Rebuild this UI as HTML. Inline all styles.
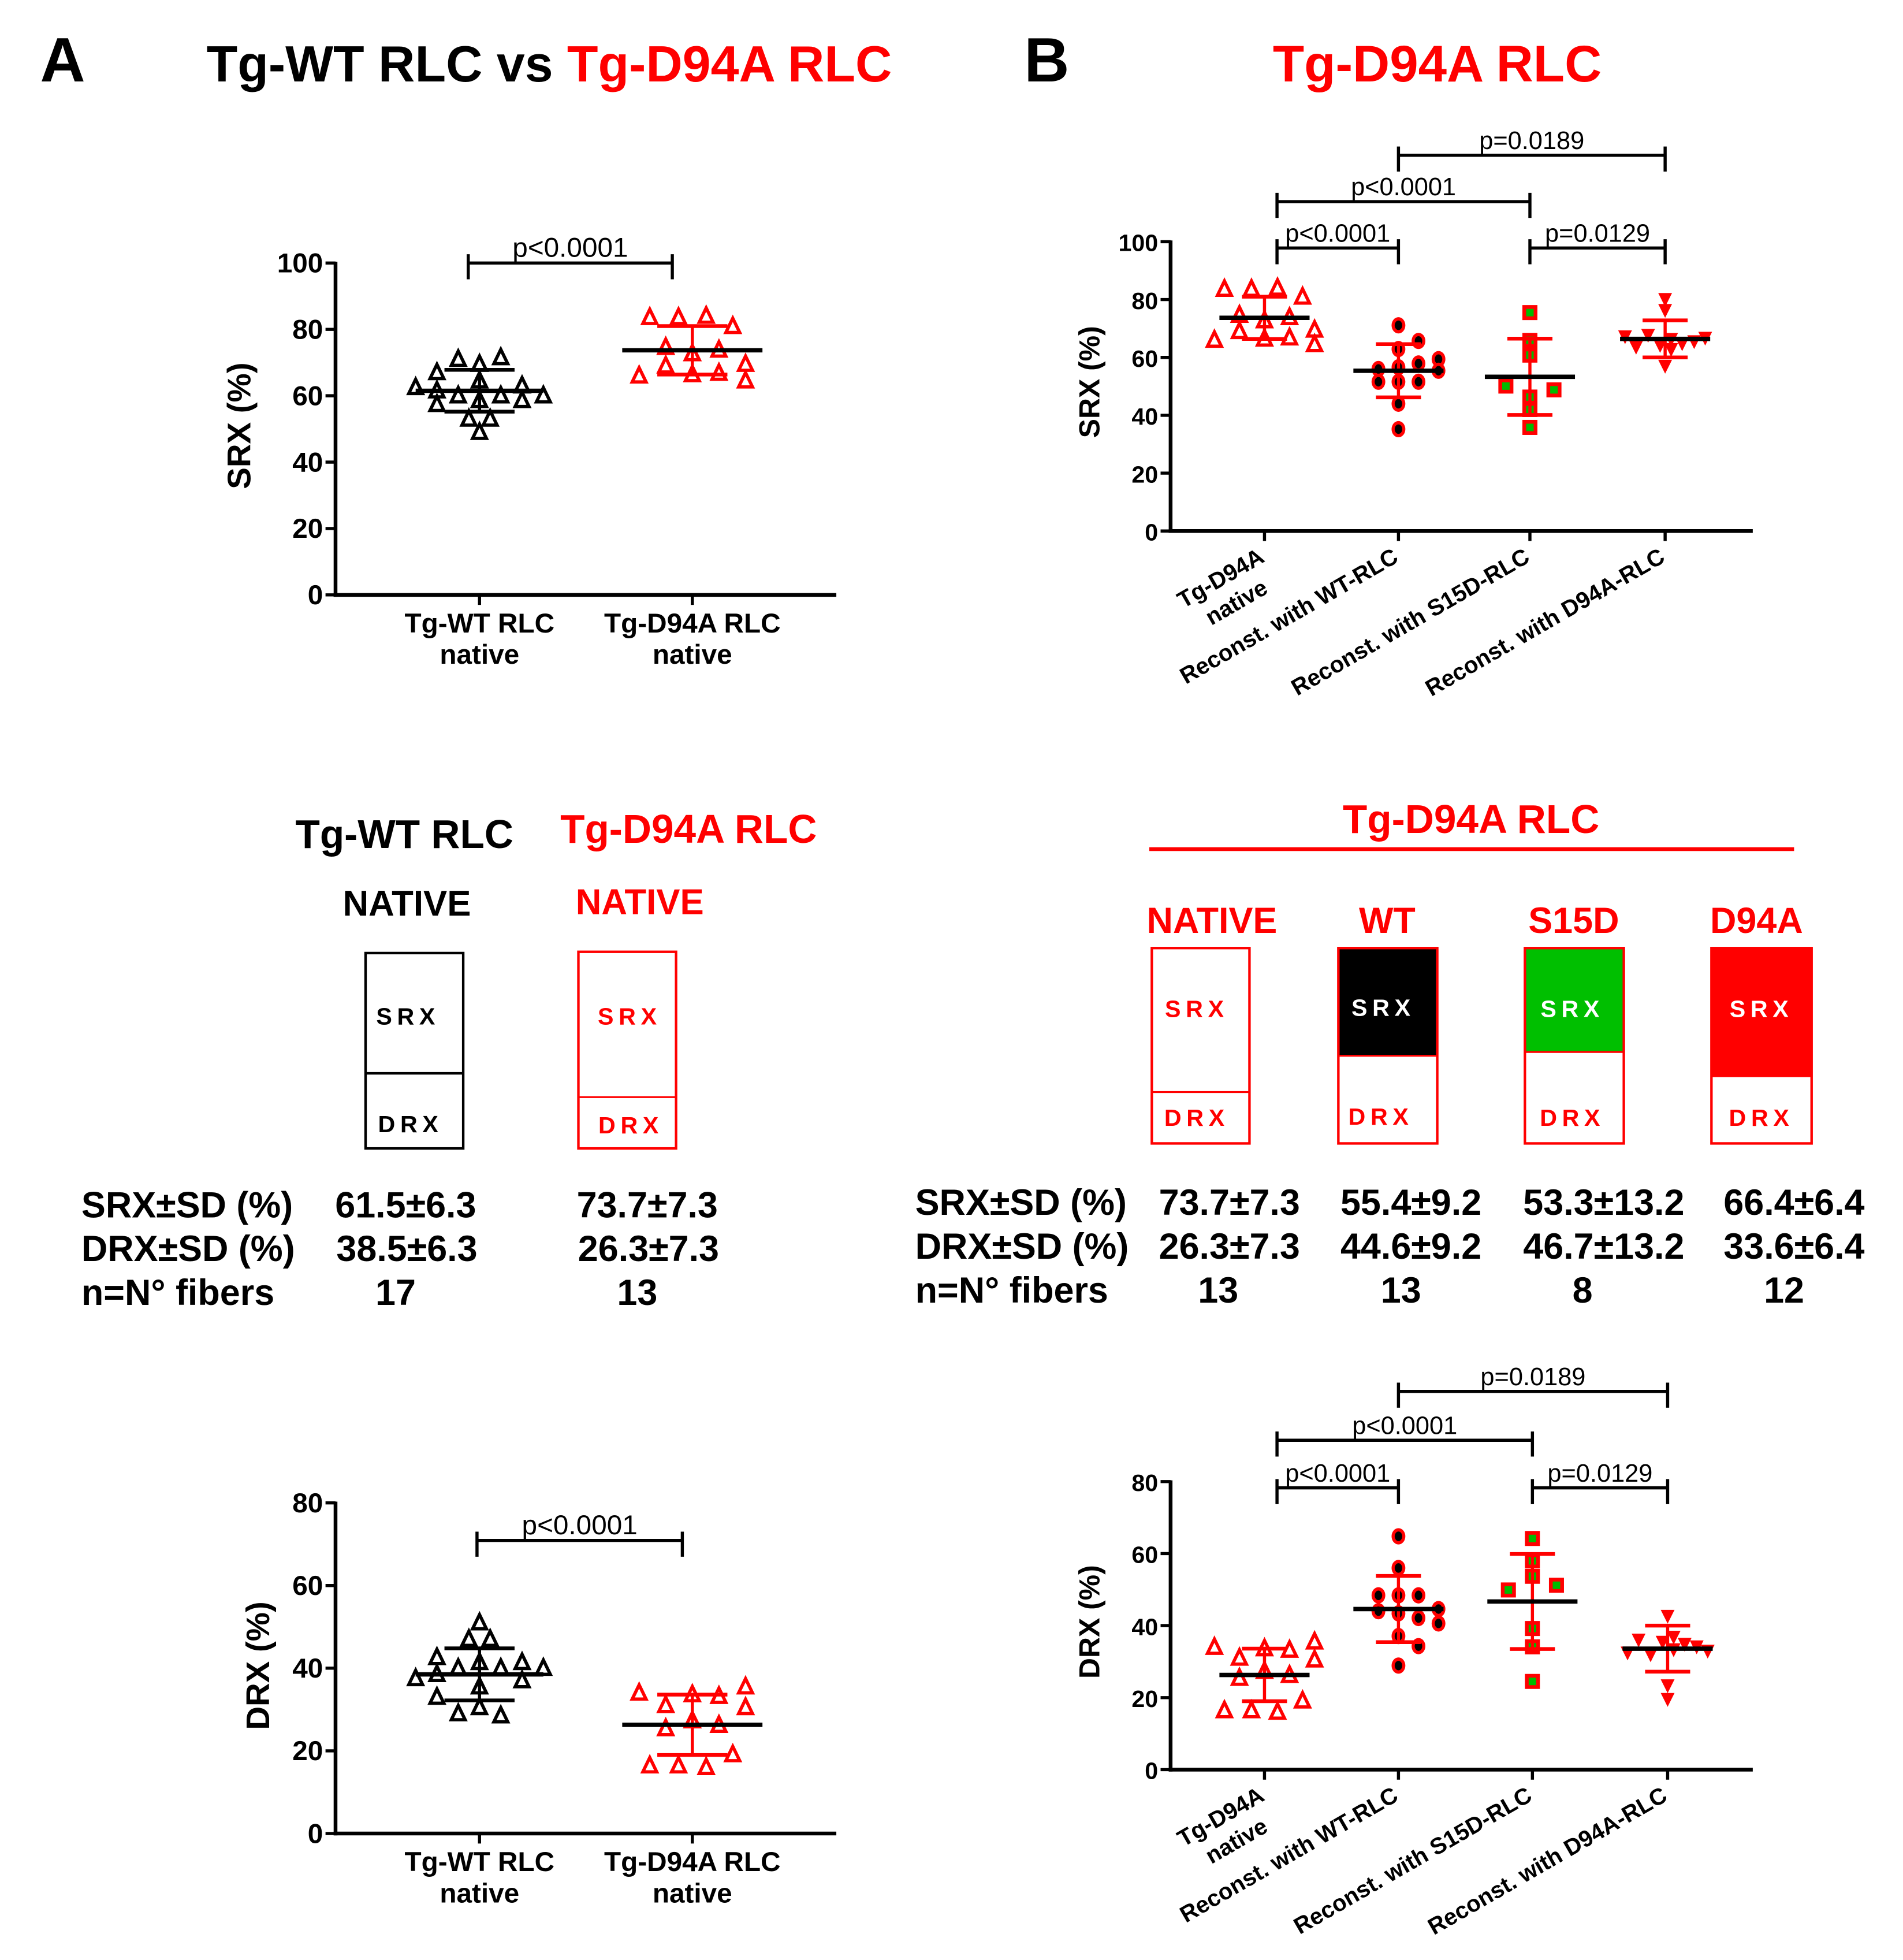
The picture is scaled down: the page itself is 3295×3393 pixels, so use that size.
<!DOCTYPE html>
<html><head><meta charset="utf-8"><style>
html,body{margin:0;padding:0;background:#fff}
svg{display:block}
text{font-family:"Liberation Sans",Arial,sans-serif}
</style></head><body>
<svg id="s" xmlns="http://www.w3.org/2000/svg" width="3295" height="3393" viewBox="0 0 1520 1565" preserveAspectRatio="none">
<rect width="1520" height="1565" fill="#fff"/>
<!-- Titles -->
<text x="32" y="65" font-size="50" font-weight="bold">A</text>
<text x="165" y="65" font-size="40.5" font-weight="bold">Tg-WT RLC vs <tspan fill="#f00">Tg-D94A RLC</tspan></text>
<text x="818" y="65" font-size="50" font-weight="bold">B</text>
<text x="1148" y="65" font-size="41" font-weight="bold" fill="#f00" text-anchor="middle">Tg-D94A RLC</text>

<!-- Middle A -->
<g font-weight="bold">
<text x="323" y="677" font-size="32" text-anchor="middle">Tg-WT RLC</text>
<text x="550" y="673" font-size="32" text-anchor="middle" fill="#f00">Tg-D94A RLC</text>
<text x="325" y="731" font-size="28.5" text-anchor="middle">NATIVE</text>
<text x="511" y="730" font-size="28.5" text-anchor="middle" fill="#f00">NATIVE</text>
</g>
<rect x="292" y="761" width="78" height="156" fill="none" stroke="#000" stroke-width="2"/>
<line x1="292" y1="857" x2="370" y2="857" stroke="#000" stroke-width="2"/>
<text x="326" y="818" font-size="19" font-weight="bold" text-anchor="middle" letter-spacing="4">SRX</text>
<text x="328" y="904" font-size="19" font-weight="bold" text-anchor="middle" letter-spacing="4">DRX</text>
<rect x="462" y="760" width="78" height="157" fill="none" stroke="#f00" stroke-width="2"/>
<line x1="462" y1="876" x2="540" y2="876" stroke="#f00" stroke-width="1.5"/>
<text x="503" y="818" font-size="19" font-weight="bold" text-anchor="middle" letter-spacing="4" fill="#f00">SRX</text>
<text x="504" y="905" font-size="19" font-weight="bold" text-anchor="middle" letter-spacing="4" fill="#f00">DRX</text>
<g font-size="29" font-weight="bold">
<text x="65" y="972">SRX±SD (%)</text><text x="65" y="1007">DRX±SD (%)</text><text x="65" y="1042">n=N° fibers</text>
<text x="324" y="972" text-anchor="middle">61.5±6.3</text><text x="325" y="1007" text-anchor="middle">38.5±6.3</text><text x="316" y="1042" text-anchor="middle">17</text>
<text x="517" y="972" text-anchor="middle">73.7±7.3</text><text x="518" y="1007" text-anchor="middle">26.3±7.3</text><text x="509" y="1042" text-anchor="middle">13</text>
</g>

<!-- Middle B -->
<text x="1175" y="665" font-size="32" font-weight="bold" text-anchor="middle" fill="#f00">Tg-D94A RLC</text>
<line x1="918" y1="678" x2="1433" y2="678" stroke="#f00" stroke-width="3"/>
<g font-size="29" font-weight="bold" fill="#f00" text-anchor="middle">
<text x="968" y="745">NATIVE</text><text x="1108" y="745">WT</text><text x="1257" y="745">S15D</text><text x="1403" y="745">D94A</text>
</g>
<rect x="920" y="757" width="78" height="156" fill="#fff" stroke="#f00" stroke-width="2"/>
<line x1="920" y1="872" x2="998" y2="872" stroke="#f00" stroke-width="1.5"/>
<rect x="1069" y="757" width="79" height="86" fill="#000"/>
<rect x="1069" y="757" width="79" height="156" fill="none" stroke="#f00" stroke-width="2"/>
<line x1="1069" y1="843" x2="1148" y2="843" stroke="#f00" stroke-width="1.5"/>
<rect x="1218" y="757" width="79" height="83" fill="#00bf00"/>
<rect x="1218" y="757" width="79" height="156" fill="none" stroke="#f00" stroke-width="2"/>
<line x1="1218" y1="840" x2="1297" y2="840" stroke="#f00" stroke-width="1.5"/>
<rect x="1367" y="757" width="80" height="103" fill="#f00"/>
<rect x="1367" y="757" width="80" height="156" fill="none" stroke="#f00" stroke-width="2"/>
<g font-size="19" font-weight="bold" letter-spacing="4" text-anchor="middle">
<text x="956" y="812" fill="#f00">SRX</text><text x="1105" y="811" fill="#fff">SRX</text><text x="1256" y="812" fill="#fff">SRX</text><text x="1407" y="812" fill="#fff">SRX</text>
<text x="956" y="899" fill="#f00">DRX</text><text x="1103" y="898" fill="#f00">DRX</text><text x="1256" y="899" fill="#f00">DRX</text><text x="1407" y="899" fill="#f00">DRX</text>
</g>
<g font-size="29" font-weight="bold">
<text x="731" y="970">SRX±SD (%)</text><text x="731" y="1005">DRX±SD (%)</text><text x="731" y="1040">n=N° fibers</text>
<g text-anchor="middle">
<text x="982" y="970">73.7±7.3</text><text x="1127" y="970">55.4±9.2</text><text x="1281" y="970">53.3±13.2</text><text x="1433" y="970">66.4±6.4</text>
<text x="982" y="1005">26.3±7.3</text><text x="1127" y="1005">44.6±9.2</text><text x="1281" y="1005">46.7±13.2</text><text x="1433" y="1005">33.6±6.4</text>
<text x="973" y="1040">13</text><text x="1119" y="1040">13</text><text x="1264" y="1040">8</text><text x="1425" y="1040">12</text>
</g></g>
<g id="dyn"></g>
</svg>
<script>
var NS="http://www.w3.org/2000/svg",G=document.getElementById("dyn");
function el(t,a,txt){var e=document.createElementNS(NS,t);for(var k in a)e.setAttribute(k,a[k]);if(txt!=null)e.textContent=txt;G.appendChild(e);return e;}
function line(x1,y1,x2,y2,c,w){el("line",{x1:x1,y1:y1,x2:x2,y2:y2,stroke:c||"#000","stroke-width":w||2.5});}
function axes(o){
  line(o.x0,o.yT-1,o.x0,o.y0+1.5,"#000",3);line(o.x0-1.5,o.y0,o.xE,o.y0,"#000",3);
  for(var v=0;v<=o.max;v+=o.step){var y=o.y0-(o.y0-o.yT)*v/o.max;line(o.x0-8,y,o.x0,y,"#000",2.5);
    el("text",{x:o.x0-10,y:y+7.5,"font-size":o.fs,"font-weight":"bold","text-anchor":"end"},String(v));}
  o.ticks.forEach(function(t){line(t,o.y0,t,o.y0+8,"#000",2.5);});
  el("text",{x:0,y:0,"font-size":o.lfs,"font-weight":"bold","text-anchor":"middle",transform:"translate("+o.lx+","+o.ly+") rotate(-90)"},o.label);
}
function brk(x1,x2,y,txt,fs){line(x1,y,x2,y,"#000",2.5);line(x1,y-7,x1,y+13,"#000",2.5);line(x2,y-7,x2,y+13,"#000",2.5);
  el("text",{x:(x1+x2)/2,y:y-5,"font-size":fs,"text-anchor":"middle"},txt);}
function tri(x,y,c,s){el("polygon",{points:(x)+","+(y-s)+" "+(x-s*0.85)+","+(y+s*0.75)+" "+(x+s*0.85)+","+(y+s*0.75),fill:"none",stroke:c,"stroke-width":2.6});}
function itri(x,y,s){el("polygon",{points:(x-s*0.85)+","+(y-s*0.7)+" "+(x+s*0.85)+","+(y-s*0.7)+" "+x+","+(y+s),fill:"#f00"});}
function circ(x,y){el("ellipse",{cx:x,cy:y,rx:5.5,ry:6.5,fill:"#f00"});el("ellipse",{cx:x,cy:y,rx:3,ry:3.8,fill:"#000"});}
function sq(x,y){el("rect",{x:x-6,y:y-6,width:12,height:12,fill:"#f00"});el("rect",{x:x-3,y:y-3,width:6,height:6,fill:"#0b0"});}
function stat(cx,Y,m,sd,w,cap,sdc){line(cx,Y(m-sd),cx,Y(m+sd),sdc,2.5);line(cx-cap,Y(m+sd),cx+cap,Y(m+sd),sdc,3);line(cx-cap,Y(m-sd),cx+cap,Y(m-sd),sdc,3);line(cx-w,Y(m),cx+w,Y(m),"#000",3.5);}
var WT=[[-6,62.5],[-4,67],[-4,61.5],[-4,57.4],[-2,71],[-2,60],[0,69.5],[0,64.5],[0,58.6],[0,49],[-1,53],[1,53],[2,71.5],[2,60],[4,63],[4,58.6],[6,60]];
var NAT=[[-4,83.6],[-1.3,83.6],[1.3,84],[3.8,80.9],[-2.5,74.6],[0,72.7],[2.5,73.8],[-2.5,69],[5,69.5],[-5,66],[0,66.4],[2.5,66.8],[5,64.5]];
var RWT=[[0,71.1],[2,65.7],[0,62.9],[-2,56],[0,56.6],[2,57.9],[4,59.4],[4,55.4],[-2,51.6],[0,51.6],[2,51.6],[0,44],[0,35.2]];
var RS=[[0,75.5],[0,65.9],[0,60.8],[-2.4,50.1],[2.4,48.8],[0,46.3],[0,42],[0,35.8]];
var RD=[[0,80.3],[0,76.5],[-4,67.4],[-1.7,67.9],[-2.9,63.8],[-0.5,64.4],[0.6,66.5],[0.6,63],[1.7,65],[2.9,65.7],[4,66.9],[0,57.2]];

(function(){var Y=function(v){return 475-v*2.65;};
axes({x0:268,xE:668,yT:210,y0:475,max:100,step:20,ticks:[383,553],fs:22,lfs:26,lx:200,ly:340,label:"SRX (%)"});
brk(374,537,210,"p<0.0001",22);
WT.forEach(function(p){tri(383+p[0]*8.5,Y(p[1]),"#000",6.5);});
NAT.forEach(function(p){tri(553+p[0]*8.5,Y(p[1]),"#f00",6.5);});
stat(383,Y,61.5,6.3,51,28,"#000");stat(553,Y,73.7,7.3,56,28,"#f00");
[[383,"Tg-WT RLC","native"],[553,"Tg-D94A RLC","native"]].forEach(function(a){el("text",{x:a[0],y:505,"font-size":22,"font-weight":"bold","text-anchor":"middle"},a[1]);el("text",{x:a[0],y:530,"font-size":22,"font-weight":"bold","text-anchor":"middle"},a[2]);});
})();
(function(){var Y=function(v){return 1464-v*3.3;};
axes({x0:268,xE:668,yT:1200,y0:1464,max:80,step:20,ticks:[383,553],fs:22,lfs:26,lx:215,ly:1330,label:"DRX (%)"});
brk(381,545,1230,"p<0.0001",22);
WT.forEach(function(p){tri(383+p[0]*8.5,Y(100-p[1]),"#000",6.5);});
NAT.forEach(function(p){tri(553+p[0]*8.5,Y(100-p[1]),"#f00",6.5);});
stat(383,Y,38.5,6.3,51,28,"#000");stat(553,Y,26.3,7.3,56,28,"#f00");
[[383,"Tg-WT RLC","native"],[553,"Tg-D94A RLC","native"]].forEach(function(a){el("text",{x:a[0],y:1494,"font-size":22,"font-weight":"bold","text-anchor":"middle"},a[1]);el("text",{x:a[0],y:1519,"font-size":22,"font-weight":"bold","text-anchor":"middle"},a[2]);});
})();
function bpanel(y0,yT,max,C,inv,brY,labY,lab,ly){
  var Y=function(v){return y0-(y0-yT)*v/max;};
  axes({x0:935,xE:1400,yT:yT,y0:y0,max:max,step:20,ticks:C,fs:19,lfs:23,lx:878,ly:ly,label:lab});
  brk(C[0]+10,C[1],brY[0],"p<0.0001",20);brk(C[2],C[3],brY[0],"p=0.0129",20);
  brk(C[0]+10,C[2],brY[1],"p<0.0001",20);brk(C[1],C[3],brY[2],"p=0.0189",20);
  var f=function(v){return inv?100-v:v;},u=8;
  NAT.forEach(function(p){tri(C[0]+p[0]*u,Y(f(p[1])),"#f00",6.5);});
  RWT.forEach(function(p){circ(C[1]+p[0]*u,Y(f(p[1])));});
  RS.forEach(function(p){sq(C[2]+p[0]*u,Y(f(p[1])));});
  RD.forEach(function(p){itri(C[3]+p[0]*u,Y(f(p[1])),6.5);});
  var M=[[73.7,7.3],[55.4,9.2],[53.3,13.2],[66.4,6.4]];
  M.forEach(function(m,i){stat(C[i],Y,inv?100-m[0]:m[0],m[1],36,18,"#f00");});
  var L=[["Tg-D94A","native"],["Reconst. with WT-RLC"],["Reconst. with S15D-RLC"],["Reconst. with D94A-RLC"]];
  L.forEach(function(l,i){var t=el("text",{x:0,y:0,"font-size":18.5,"font-weight":"bold","text-anchor":"end",transform:"translate("+(C[i]+1)+","+(labY-4)+") rotate(-30)"});
    if(l.length==2){var a=document.createElementNS(NS,"tspan");a.setAttribute("x",0);a.textContent=l[0];t.appendChild(a);var b=document.createElementNS(NS,"tspan");b.setAttribute("x",-10);b.setAttribute("dy",23);b.textContent=l[1];t.appendChild(b);}
    else t.textContent=l[0];});
}
bpanel(424,193,100,[1010,1117,1222,1330],false,[198,161,124],452,"SRX (%)",305);
bpanel(1413,1183,80,[1010,1117,1224,1332],true,[1188,1150,1111],1441,"DRX (%)",1295);
</script>
</body></html>
